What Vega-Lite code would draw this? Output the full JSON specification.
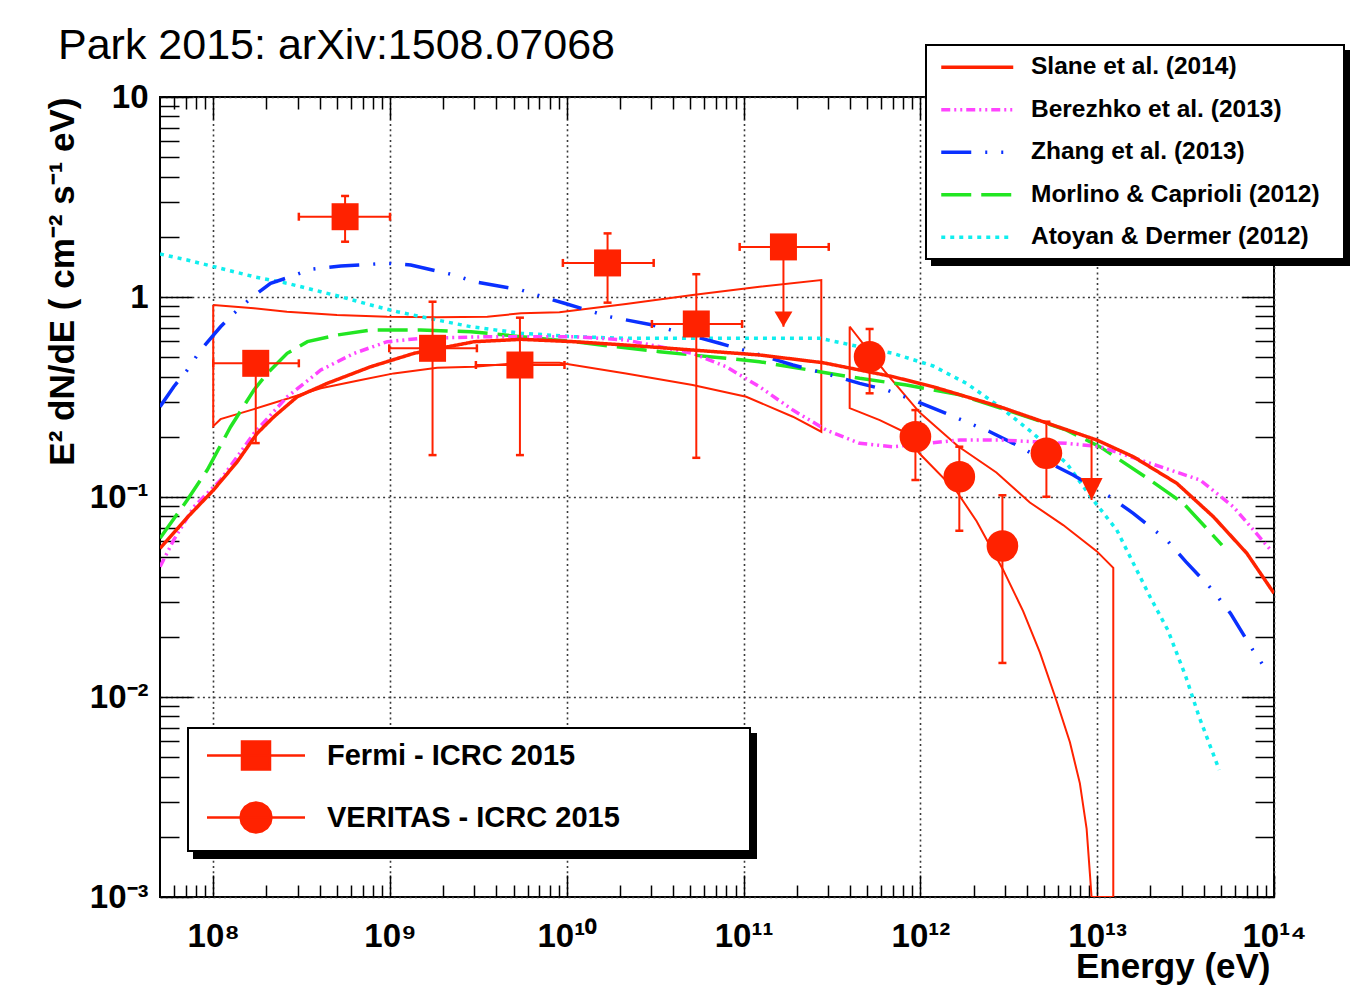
{
  "$schema": "https://vega.github.io/schema/vega-lite/v6.json",
  "width": 1114,
  "height": 800,
  "autosize": {"type": "none"},
  "padding": {"left": 160, "top": 97, "right": 76, "bottom": 94},
  "background": "white",
  "config": {
    "view": {"stroke": "black", "strokeWidth": 2},
    "font": "Liberation Sans",
    "legend": {"strokeWidth": 2},
    "axis": {"labelFont": "Liberation Sans", "titleFont": "Liberation Sans"}
  },
  "title": {"text": "Park 2015: arXiv:1508.07068", "anchor": "start", "frame": "group", "dx": -102, "dy": 58, "fontSize": 43, "font": "Liberation Sans", "fontWeight": "normal", "color": "black", "baseline": "alphabetic", "offset": 0},
  "resolve": {"axis": {"x": "independent", "y": "independent"}},
  "datasets": {
    "curves": [
      {"model": "Atoyan & Dermer (2012)", "E": 5e7, "F": 1.641},
      {"model": "Atoyan & Dermer (2012)", "E": 7.13e7, "F": 1.531},
      {"model": "Atoyan & Dermer (2012)", "E": 1.10e8, "F": 1.391},
      {"model": "Atoyan & Dermer (2012)", "E": 1.70e8, "F": 1.263},
      {"model": "Atoyan & Dermer (2012)", "E": 2.62e8, "F": 1.171},
      {"model": "Atoyan & Dermer (2012)", "E": 4.06e8, "F": 1.063},
      {"model": "Atoyan & Dermer (2012)", "E": 5.27e8, "F": 1.003},
      {"model": "Atoyan & Dermer (2012)", "E": 7.78e8, "F": 0.912},
      {"model": "Atoyan & Dermer (2012)", "E": 1.10e9, "F": 0.844},
      {"model": "Atoyan & Dermer (2012)", "E": 1.85e9, "F": 0.767},
      {"model": "Atoyan & Dermer (2012)", "E": 2.87e9, "F": 0.710},
      {"model": "Atoyan & Dermer (2012)", "E": 5.51e9, "F": 0.659},
      {"model": "Atoyan & Dermer (2012)", "E": 1.10e10, "F": 0.633},
      {"model": "Atoyan & Dermer (2012)", "E": 2.16e10, "F": 0.622},
      {"model": "Atoyan & Dermer (2012)", "E": 5.15e10, "F": 0.622},
      {"model": "Atoyan & Dermer (2012)", "E": 1.23e11, "F": 0.622},
      {"model": "Atoyan & Dermer (2012)", "E": 2.69e11, "F": 0.622},
      {"model": "Atoyan & Dermer (2012)", "E": 4.53e11, "F": 0.564},
      {"model": "Atoyan & Dermer (2012)", "E": 6.99e11, "F": 0.523},
      {"model": "Atoyan & Dermer (2012)", "E": 1.18e12, "F": 0.452},
      {"model": "Atoyan & Dermer (2012)", "E": 1.82e12, "F": 0.370},
      {"model": "Atoyan & Dermer (2012)", "E": 2.81e12, "F": 0.283},
      {"model": "Atoyan & Dermer (2012)", "E": 4.34e12, "F": 0.208},
      {"model": "Atoyan & Dermer (2012)", "E": 6.71e12, "F": 0.1475},
      {"model": "Atoyan & Dermer (2012)", "E": 9.49e12, "F": 0.0966},
      {"model": "Atoyan & Dermer (2012)", "E": 1.29e13, "F": 0.0684},
      {"model": "Atoyan & Dermer (2012)", "E": 1.99e13, "F": 0.0317},
      {"model": "Atoyan & Dermer (2012)", "E": 2.51e13, "F": 0.0216},
      {"model": "Atoyan & Dermer (2012)", "E": 3.17e13, "F": 0.01264},
      {"model": "Atoyan & Dermer (2012)", "E": 3.77e13, "F": 0.00797},
      {"model": "Atoyan & Dermer (2012)", "E": 4.90e13, "F": 0.00432},
      {"model": "Morlino & Caprioli (2012)", "E": 5e7, "F": 0.0622},
      {"model": "Morlino & Caprioli (2012)", "E": 7.13e7, "F": 0.0966},
      {"model": "Morlino & Caprioli (2012)", "E": 9.25e7, "F": 0.1365},
      {"model": "Morlino & Caprioli (2012)", "E": 1.255e8, "F": 0.2246},
      {"model": "Morlino & Caprioli (2012)", "E": 1.70e8, "F": 0.343},
      {"model": "Morlino & Caprioli (2012)", "E": 2.02e8, "F": 0.415},
      {"model": "Morlino & Caprioli (2012)", "E": 2.62e8, "F": 0.523},
      {"model": "Morlino & Caprioli (2012)", "E": 3.41e8, "F": 0.598},
      {"model": "Morlino & Caprioli (2012)", "E": 5.04e8, "F": 0.646},
      {"model": "Morlino & Caprioli (2012)", "E": 7.78e8, "F": 0.684},
      {"model": "Morlino & Caprioli (2012)", "E": 1.49e9, "F": 0.684},
      {"model": "Morlino & Caprioli (2012)", "E": 2.87e9, "F": 0.671},
      {"model": "Morlino & Caprioli (2012)", "E": 5.51e9, "F": 0.633},
      {"model": "Morlino & Caprioli (2012)", "E": 1.10e10, "F": 0.598},
      {"model": "Morlino & Caprioli (2012)", "E": 1.74e10, "F": 0.569},
      {"model": "Morlino & Caprioli (2012)", "E": 3.34e10, "F": 0.533},
      {"model": "Morlino & Caprioli (2012)", "E": 6.41e10, "F": 0.503},
      {"model": "Morlino & Caprioli (2012)", "E": 1.23e11, "F": 0.475},
      {"model": "Morlino & Caprioli (2012)", "E": 2.69e11, "F": 0.423},
      {"model": "Morlino & Caprioli (2012)", "E": 4.53e11, "F": 0.392},
      {"model": "Morlino & Caprioli (2012)", "E": 8.34e11, "F": 0.363},
      {"model": "Morlino & Caprioli (2012)", "E": 1.67e12, "F": 0.324},
      {"model": "Morlino & Caprioli (2012)", "E": 3.50e12, "F": 0.262},
      {"model": "Morlino & Caprioli (2012)", "E": 6.71e12, "F": 0.216},
      {"model": "Morlino & Caprioli (2012)", "E": 1.04e13, "F": 0.178},
      {"model": "Morlino & Caprioli (2012)", "E": 1.99e13, "F": 0.1216},
      {"model": "Morlino & Caprioli (2012)", "E": 3.07e13, "F": 0.093},
      {"model": "Morlino & Caprioli (2012)", "E": 5.08e13, "F": 0.0575},
      {"model": "Zhang et al. (2013)", "E": 5e7, "F": 0.283},
      {"model": "Zhang et al. (2013)", "E": 5.98e7, "F": 0.356},
      {"model": "Zhang et al. (2013)", "E": 7.13e7, "F": 0.4315},
      {"model": "Zhang et al. (2013)", "E": 8.49e7, "F": 0.543},
      {"model": "Zhang et al. (2013)", "E": 1.10e8, "F": 0.710},
      {"model": "Zhang et al. (2013)", "E": 1.31e8, "F": 0.829},
      {"model": "Zhang et al. (2013)", "E": 1.63e8, "F": 0.985},
      {"model": "Zhang et al. (2013)", "E": 2.11e8, "F": 1.171},
      {"model": "Zhang et al. (2013)", "E": 2.74e8, "F": 1.263},
      {"model": "Zhang et al. (2013)", "E": 3.56e8, "F": 1.375},
      {"model": "Zhang et al. (2013)", "E": 5.27e8, "F": 1.429},
      {"model": "Zhang et al. (2013)", "E": 9.67e8, "F": 1.474},
      {"model": "Zhang et al. (2013)", "E": 1.31e9, "F": 1.445},
      {"model": "Zhang et al. (2013)", "E": 2.31e9, "F": 1.288},
      {"model": "Zhang et al. (2013)", "E": 2.99e9, "F": 1.192},
      {"model": "Zhang et al. (2013)", "E": 5.51e9, "F": 1.084},
      {"model": "Zhang et al. (2013)", "E": 7.78e9, "F": 0.985},
      {"model": "Zhang et al. (2013)", "E": 9.69e9, "F": 0.930},
      {"model": "Zhang et al. (2013)", "E": 1.74e10, "F": 0.797},
      {"model": "Zhang et al. (2013)", "E": 3.06e10, "F": 0.724},
      {"model": "Zhang et al. (2013)", "E": 4.53e10, "F": 0.659},
      {"model": "Zhang et al. (2013)", "E": 7.31e10, "F": 0.587},
      {"model": "Zhang et al. (2013)", "E": 1.08e11, "F": 0.533},
      {"model": "Zhang et al. (2013)", "E": 1.90e11, "F": 0.457},
      {"model": "Zhang et al. (2013)", "E": 3.35e11, "F": 0.400},
      {"model": "Zhang et al. (2013)", "E": 4.53e11, "F": 0.370},
      {"model": "Zhang et al. (2013)", "E": 6.42e11, "F": 0.343},
      {"model": "Zhang et al. (2013)", "E": 9.08e11, "F": 0.3055},
      {"model": "Zhang et al. (2013)", "E": 1.47e12, "F": 0.257},
      {"model": "Zhang et al. (2013)", "E": 2.47e12, "F": 0.212},
      {"model": "Zhang et al. (2013)", "E": 3.35e12, "F": 0.1855},
      {"model": "Zhang et al. (2013)", "E": 5.40e12, "F": 0.1475},
      {"model": "Zhang et al. (2013)", "E": 7.31e12, "F": 0.1288},
      {"model": "Zhang et al. (2013)", "E": 1.18e13, "F": 0.1003},
      {"model": "Zhang et al. (2013)", "E": 1.60e13, "F": 0.0829},
      {"model": "Zhang et al. (2013)", "E": 2.47e13, "F": 0.061},
      {"model": "Zhang et al. (2013)", "E": 3.17e13, "F": 0.0475},
      {"model": "Zhang et al. (2013)", "E": 4.49e13, "F": 0.0343},
      {"model": "Zhang et al. (2013)", "E": 5.67e13, "F": 0.0262},
      {"model": "Zhang et al. (2013)", "E": 7.59e13, "F": 0.0172},
      {"model": "Zhang et al. (2013)", "E": 9.30e13, "F": 0.01314},
      {"model": "Berezhko et al. (2013)", "E": 5e7, "F": 0.0448},
      {"model": "Berezhko et al. (2013)", "E": 5.98e7, "F": 0.061},
      {"model": "Berezhko et al. (2013)", "E": 7.78e7, "F": 0.0894},
      {"model": "Berezhko et al. (2013)", "E": 1.10e8, "F": 0.1216},
      {"model": "Berezhko et al. (2013)", "E": 1.70e8, "F": 0.2083},
      {"model": "Berezhko et al. (2013)", "E": 2.62e8, "F": 0.317},
      {"model": "Berezhko et al. (2013)", "E": 4.06e8, "F": 0.4315},
      {"model": "Berezhko et al. (2013)", "E": 6.27e8, "F": 0.523},
      {"model": "Berezhko et al. (2013)", "E": 9.66e8, "F": 0.598},
      {"model": "Berezhko et al. (2013)", "E": 1.49e9, "F": 0.6215},
      {"model": "Berezhko et al. (2013)", "E": 3.56e9, "F": 0.633},
      {"model": "Berezhko et al. (2013)", "E": 1.10e10, "F": 0.633},
      {"model": "Berezhko et al. (2013)", "E": 2.16e10, "F": 0.6095},
      {"model": "Berezhko et al. (2013)", "E": 5.15e10, "F": 0.523},
      {"model": "Berezhko et al. (2013)", "E": 7.97e10, "F": 0.448},
      {"model": "Berezhko et al. (2013)", "E": 1.23e11, "F": 0.356},
      {"model": "Berezhko et al. (2013)", "E": 1.90e11, "F": 0.272},
      {"model": "Berezhko et al. (2013)", "E": 2.94e11, "F": 0.216},
      {"model": "Berezhko et al. (2013)", "E": 4.53e11, "F": 0.1855},
      {"model": "Berezhko et al. (2013)", "E": 6.99e11, "F": 0.1784},
      {"model": "Berezhko et al. (2013)", "E": 1.67e12, "F": 0.1928},
      {"model": "Berezhko et al. (2013)", "E": 2.81e12, "F": 0.1928},
      {"model": "Berezhko et al. (2013)", "E": 6.71e12, "F": 0.1855},
      {"model": "Berezhko et al. (2013)", "E": 1.04e13, "F": 0.1784},
      {"model": "Berezhko et al. (2013)", "E": 1.99e13, "F": 0.1475},
      {"model": "Berezhko et al. (2013)", "E": 3.82e13, "F": 0.1216},
      {"model": "Berezhko et al. (2013)", "E": 5.89e13, "F": 0.0894},
      {"model": "Berezhko et al. (2013)", "E": 9.58e13, "F": 0.0543},
      {"model": "Slane et al. (2014)", "E": 5e7, "F": 0.0554},
      {"model": "Slane et al. (2014)", "E": 7.13e7, "F": 0.079},
      {"model": "Slane et al. (2014)", "E": 1.0e8, "F": 0.108},
      {"model": "Slane et al. (2014)", "E": 1.367e8, "F": 0.150},
      {"model": "Slane et al. (2014)", "E": 1.774e8, "F": 0.2083},
      {"model": "Slane et al. (2014)", "E": 2.206e8, "F": 0.2521},
      {"model": "Slane et al. (2014)", "E": 2.99e8, "F": 0.3173},
      {"model": "Slane et al. (2014)", "E": 4.42e8, "F": 0.3702},
      {"model": "Slane et al. (2014)", "E": 7.78e8, "F": 0.4482},
      {"model": "Slane et al. (2014)", "E": 1.369e9, "F": 0.5231},
      {"model": "Slane et al. (2014)", "E": 2.99e9, "F": 0.5976},
      {"model": "Slane et al. (2014)", "E": 5.51e9, "F": 0.6143},
      {"model": "Slane et al. (2014)", "E": 1.103e10, "F": 0.5976},
      {"model": "Slane et al. (2014)", "E": 2.163e10, "F": 0.575},
      {"model": "Slane et al. (2014)", "E": 5.15e10, "F": 0.543},
      {"model": "Slane et al. (2014)", "E": 1.23e11, "F": 0.5129},
      {"model": "Slane et al. (2014)", "E": 2.81e11, "F": 0.4694},
      {"model": "Slane et al. (2014)", "E": 4.53e11, "F": 0.4315},
      {"model": "Slane et al. (2014)", "E": 6.99e11, "F": 0.3995},
      {"model": "Slane et al. (2014)", "E": 1.178e12, "F": 0.356},
      {"model": "Slane et al. (2014)", "E": 1.82e12, "F": 0.3173},
      {"model": "Slane et al. (2014)", "E": 2.81e12, "F": 0.2828},
      {"model": "Slane et al. (2014)", "E": 4.94e12, "F": 0.2379},
      {"model": "Slane et al. (2014)", "E": 9.93e12, "F": 0.1928},
      {"model": "Slane et al. (2014)", "E": 1.6e13, "F": 0.159},
      {"model": "Slane et al. (2014)", "E": 2.82e13, "F": 0.1171},
      {"model": "Slane et al. (2014)", "E": 4.54e13, "F": 0.0797},
      {"model": "Slane et al. (2014)", "E": 7.02e13, "F": 0.0523},
      {"model": "Slane et al. (2014)", "E": 1e14, "F": 0.033}
    ],
    "bowties": [
      {"bt": "Fermi", "i": 1, "E": 1e8, "F": 0.912},
      {"bt": "Fermi", "i": 2, "E": 1.70e8, "F": 0.878},
      {"bt": "Fermi", "i": 3, "E": 2.61e8, "F": 0.844},
      {"bt": "Fermi", "i": 4, "E": 5.01e8, "F": 0.813},
      {"bt": "Fermi", "i": 5, "E": 9.64e8, "F": 0.797},
      {"bt": "Fermi", "i": 6, "E": 1.85e9, "F": 0.792},
      {"bt": "Fermi", "i": 7, "E": 3.55e9, "F": 0.797},
      {"bt": "Fermi", "i": 8, "E": 5.51e9, "F": 0.829},
      {"bt": "Fermi", "i": 9, "E": 9.08e9, "F": 0.839},
      {"bt": "Fermi", "i": 10, "E": 2.16e10, "F": 0.923},
      {"bt": "Fermi", "i": 11, "E": 5.15e10, "F": 1.023},
      {"bt": "Fermi", "i": 12, "E": 1.23e11, "F": 1.126},
      {"bt": "Fermi", "i": 13, "E": 2.75e11, "F": 1.216},
      {"bt": "Fermi", "i": 14, "E": 2.75e11, "F": 0.212},
      {"bt": "Fermi", "i": 15, "E": 1.90e11, "F": 0.252},
      {"bt": "Fermi", "i": 16, "E": 1.035e11, "F": 0.317},
      {"bt": "Fermi", "i": 17, "E": 5.15e10, "F": 0.363},
      {"bt": "Fermi", "i": 18, "E": 2.16e10, "F": 0.415},
      {"bt": "Fermi", "i": 19, "E": 9.08e9, "F": 0.469},
      {"bt": "Fermi", "i": 20, "E": 5.51e9, "F": 0.469},
      {"bt": "Fermi", "i": 21, "E": 2.99e9, "F": 0.448},
      {"bt": "Fermi", "i": 22, "E": 1.85e9, "F": 0.443},
      {"bt": "Fermi", "i": 23, "E": 1.05e9, "F": 0.415},
      {"bt": "Fermi", "i": 24, "E": 6.84e8, "F": 0.385},
      {"bt": "Fermi", "i": 25, "E": 4.06e8, "F": 0.350},
      {"bt": "Fermi", "i": 26, "E": 2.62e8, "F": 0.310},
      {"bt": "Fermi", "i": 27, "E": 1.70e8, "F": 0.275},
      {"bt": "Fermi", "i": 28, "E": 1.10e8, "F": 0.245},
      {"bt": "Fermi", "i": 29, "E": 1e8, "F": 0.226},
      {"bt": "Fermi", "i": 30, "E": 1e8, "F": 0.912},
      {"bt": "VERITAS", "i": 1, "E": 3.98e11, "F": 0.712},
      {"bt": "VERITAS", "i": 2, "E": 6.28e11, "F": 0.4246},
      {"bt": "VERITAS", "i": 3, "E": 9.91e11, "F": 0.2642},
      {"bt": "VERITAS", "i": 4, "E": 1.633e12, "F": 0.1793},
      {"bt": "VERITAS", "i": 5, "E": 2.69e12, "F": 0.1326},
      {"bt": "VERITAS", "i": 6, "E": 4.16e12, "F": 0.0939},
      {"bt": "VERITAS", "i": 7, "E": 6.42e12, "F": 0.0724},
      {"bt": "VERITAS", "i": 8, "E": 9.93e12, "F": 0.0536},
      {"bt": "VERITAS", "i": 9, "E": 1.233e13, "F": 0.0442},
      {"bt": "VERITAS", "i": 10, "E": 1.233e13, "F": 0.001},
      {"bt": "VERITAS", "i": 11, "E": 9.29e12, "F": 0.001},
      {"bt": "VERITAS", "i": 12, "E": 9.09e12, "F": 0.001313},
      {"bt": "VERITAS", "i": 13, "E": 8.71e12, "F": 0.0022},
      {"bt": "VERITAS", "i": 14, "E": 7.98e12, "F": 0.0037},
      {"bt": "VERITAS", "i": 15, "E": 7.01e12, "F": 0.00594},
      {"bt": "VERITAS", "i": 16, "E": 5.89e12, "F": 0.00955},
      {"bt": "VERITAS", "i": 17, "E": 4.74e12, "F": 0.01673},
      {"bt": "VERITAS", "i": 18, "E": 3.81e12, "F": 0.0269},
      {"bt": "VERITAS", "i": 19, "E": 2.94e12, "F": 0.0432},
      {"bt": "VERITAS", "i": 20, "E": 2.08e12, "F": 0.0757},
      {"bt": "VERITAS", "i": 21, "E": 1.60e12, "F": 0.1068},
      {"bt": "VERITAS", "i": 22, "E": 9.91e11, "F": 0.1644},
      {"bt": "VERITAS", "i": 23, "E": 7.97e11, "F": 0.2131},
      {"bt": "VERITAS", "i": 24, "E": 5.89e11, "F": 0.2424},
      {"bt": "VERITAS", "i": 25, "E": 3.98e11, "F": 0.2783},
      {"bt": "VERITAS", "i": 26, "E": 3.98e11, "F": 0.712}
    ],
    "points": [
      {"inst": "Fermi - ICRC 2015", "E": 1.74e8, "F": 0.466, "Elo": 1.0e8, "Ehi": 3.05e8, "Flo": 0.186, "Fhi": 0.466, "ul": false},
      {"inst": "Fermi - ICRC 2015", "E": 5.57e8, "F": 2.52, "Elo": 3.05e8, "Ehi": 1.0e9, "Flo": 1.89, "Fhi": 3.2, "ul": false},
      {"inst": "Fermi - ICRC 2015", "E": 1.74e9, "F": 0.554, "Elo": 9.9e8, "Ehi": 3.1e9, "Flo": 0.162, "Fhi": 0.947, "ul": false},
      {"inst": "Fermi - ICRC 2015", "E": 5.43e9, "F": 0.457, "Elo": 3.06e9, "Ehi": 9.7e9, "Flo": 0.162, "Fhi": 0.788, "ul": false},
      {"inst": "Fermi - ICRC 2015", "E": 1.70e10, "F": 1.48, "Elo": 9.5e9, "Ehi": 3.1e10, "Flo": 0.937, "Fhi": 2.08, "ul": false},
      {"inst": "Fermi - ICRC 2015", "E": 5.4e10, "F": 0.733, "Elo": 3.03e10, "Ehi": 9.8e10, "Flo": 0.157, "Fhi": 1.30, "ul": false},
      {"inst": "Fermi - ICRC 2015", "E": 1.68e11, "F": 1.78, "Elo": 9.5e10, "Ehi": 3.03e11, "Flo": 0.71, "Fhi": 1.78, "ul": true},
      {"inst": "VERITAS - ICRC 2015", "E": 5.16e11, "F": 0.503, "Elo": null, "Ehi": null, "Flo": 0.33, "Fhi": 0.692, "ul": false},
      {"inst": "VERITAS - ICRC 2015", "E": 9.37e11, "F": 0.200, "Elo": null, "Ehi": null, "Flo": 0.1216, "Fhi": 0.272, "ul": false},
      {"inst": "VERITAS - ICRC 2015", "E": 1.66e12, "F": 0.1263, "Elo": null, "Ehi": null, "Flo": 0.0678, "Fhi": 0.1784, "ul": false},
      {"inst": "VERITAS - ICRC 2015", "E": 2.91e12, "F": 0.0569, "Elo": null, "Ehi": null, "Flo": 0.0148, "Fhi": 0.102, "ul": false},
      {"inst": "VERITAS - ICRC 2015", "E": 5.16e12, "F": 0.1654, "Elo": null, "Ehi": null, "Flo": 0.1003, "Fhi": 0.238, "ul": false},
      {"inst": "VERITAS - ICRC 2015", "E": 9.29e12, "F": null, "Elo": null, "Ehi": null, "Flo": 0.0966, "Fhi": 0.193, "ul": true}
    ]
  },
  "layer": [
    {
      "data": {"name": "bowties"},
      "mark": {"type": "line", "color": "#ff2200", "strokeWidth": 2, "clip": true},
      "encoding": {
        "x": {"field": "E", "type": "quantitative", "scale": {"type": "log", "domain": [5e7, 1e14], "nice": false},
          "axis": {"orient": "bottom", "values": [6e7,7e7,8e7,9e7,2e8,3e8,4e8,5e8,6e8,7e8,8e8,9e8,2e9,3e9,4e9,5e9,6e9,7e9,8e9,9e9,2e10,3e10,4e10,5e10,6e10,7e10,8e10,9e10,2e11,3e11,4e11,5e11,6e11,7e11,8e11,9e11,2e12,3e12,4e12,5e12,6e12,7e12,8e12,9e12,2e13,3e13,4e13,5e13,6e13,7e13,8e13,9e13], "labels": false, "ticks": true, "tickSize": -12, "tickColor": "black", "tickWidth": 1.5, "domain": false, "grid": false, "title": null}},
        "y": {"field": "F", "type": "quantitative", "scale": {"type": "log", "domain": [0.001, 10], "nice": false},
          "axis": {"orient": "left", "values": [0.002,0.003,0.004,0.005,0.006,0.007,0.008,0.009,0.02,0.03,0.04,0.05,0.06,0.07,0.08,0.09,0.2,0.3,0.4,0.5,0.6,0.7,0.8,0.9,2,3,4,5,6,7,8,9], "labels": false, "ticks": true, "tickSize": -19, "tickColor": "black", "tickWidth": 1.5, "domain": false, "grid": false, "title": null}},
        "detail": {"field": "bt"},
        "order": {"field": "i"}
      }
    },
    {
      "data": {"name": "curves"},
      "mark": {"type": "line", "strokeWidth": 3.5, "clip": true},
      "encoding": {
        "x": {"field": "E", "type": "quantitative", "scale": {"type": "log", "domain": [5e7, 1e14], "nice": false},
          "axis": {"orient": "bottom", "values": [1e8,1e9,1e10,1e11,1e12,1e13,1e14], "labelExpr": "round(log(datum.value)/LN10) == 8 ? '10⁸' : round(log(datum.value)/LN10) == 9 ? '10⁹' : round(log(datum.value)/LN10) == 10 ? '10¹⁰' : round(log(datum.value)/LN10) == 11 ? '10¹¹' : round(log(datum.value)/LN10) == 12 ? '10¹²' : round(log(datum.value)/LN10) == 13 ? '10¹³' : '10¹⁴'", "labelFontSize": 33, "labelFontWeight": "bold", "labelColor": "black", "labelPadding": 23, "labelAlign": "center", "labelBaseline": "top", "labelFlush": false, "labelOverlap": false, "labelBound": false, "ticks": false, "domain": false, "grid": true, "gridColor": "#3a3a3a", "gridDash": [2, 3.3], "gridWidth": 1.6, "gridOpacity": 1, "title": "Energy (eV)", "titleFontSize": 35, "titleFontWeight": "bold", "titleColor": "black", "titleX": 1110, "titleY": 80, "titleAlign": "right", "titleBaseline": "alphabetic", "titleAngle": 0}},
        "y": {"field": "F", "type": "quantitative", "scale": {"type": "log", "domain": [0.001, 10], "nice": false},
          "axis": {"orient": "left", "values": [0.001, 0.01, 0.1, 1, 10], "labelExpr": "round(log(datum.value)/LN10) == 1 ? '10' : round(log(datum.value)/LN10) == 0 ? '1' : round(log(datum.value)/LN10) == -1 ? '10⁻¹' : round(log(datum.value)/LN10) == -2 ? '10⁻²' : '10⁻³'", "labelFontSize": 33, "labelFontWeight": "bold", "labelColor": "black", "labelPadding": 12, "labelAlign": "right", "labelBaseline": "middle", "labelFlush": false, "labelOverlap": false, "labelBound": false, "ticks": false, "domain": false, "grid": true, "gridColor": "#3a3a3a", "gridDash": [2, 3.3], "gridWidth": 1.6, "gridOpacity": 1, "title": "E² dN/dE ( cm⁻² s⁻¹ eV)", "titleFontSize": 35, "titleFontWeight": "bold", "titleColor": "black", "titleAngle": -90, "titleX": -98, "titleY": 0, "titleAlign": "right", "titleBaseline": "middle"}},
        "color": {"field": "model", "type": "nominal",
          "scale": {"domain": ["Slane et al. (2014)", "Berezhko et al. (2013)", "Zhang et al. (2013)", "Morlino & Caprioli (2012)", "Atoyan & Dermer (2012)"], "range": ["#ff2200", "#ff44ff", "#0a30ff", "#22e622", "#10eeee"]},
          "legend": {"title": "0", "titleOrient": "right", "titleFontSize": 20, "titleFontWeight": "normal", "titleColor": "white", "titlePadding": 2, "orient": "none", "legendX": 766, "legendY": -52, "symbolType": "M-4.5,0L4.5,0", "symbolSize": 256, "symbolStrokeWidth": 3.5, "symbolOffset": 29, "labelOffset": 41.5, "rowPadding": 17.5, "padding": 10, "fillColor": "white", "strokeColor": "black", "labelFont": "Liberation Sans", "labelFontSize": 24.5, "labelFontWeight": "bold", "labelColor": "black", "labelLimit": 1000, "zindex": 2}},
        "strokeDash": {"field": "model", "type": "nominal",
          "scale": {"domain": ["Slane et al. (2014)", "Berezhko et al. (2013)", "Zhang et al. (2013)", "Morlino & Caprioli (2012)", "Atoyan & Dermer (2012)"], "range": [[1, 0], [9, 4, 2, 4, 2, 4], [30, 14, 2, 14, 2, 14], [30, 10], [4, 5]]},
          "legend": {"title": "0", "titleOrient": "right", "titleFontSize": 20, "titleFontWeight": "normal", "titleColor": "white", "titlePadding": 2, "orient": "none", "legendX": 766, "legendY": -52, "symbolType": "M-4.5,0L4.5,0", "symbolSize": 256, "symbolStrokeWidth": 3.5, "symbolOffset": 29, "labelOffset": 41.5, "rowPadding": 17.5, "padding": 10, "fillColor": "white", "strokeColor": "black", "labelFont": "Liberation Sans", "labelFontSize": 24.5, "labelFontWeight": "bold", "labelColor": "black", "labelLimit": 1000, "zindex": 2}}
      }
    },
    {
      "data": {"name": "curves"},
      "transform": [{"filter": "false"}],
      "mark": {"type": "point", "filled": true},
      "encoding": {
        "x": {"field": "E", "type": "quantitative", "scale": {"type": "log", "domain": [5e7, 1e14], "nice": false}, "axis": null},
        "y": {"field": "F", "type": "quantitative", "scale": {"type": "log", "domain": [0.001, 10], "nice": false}, "axis": null},
        "fill": {"field": "model", "type": "nominal",
          "scale": {"domain": ["Atoyan & Dermer (2012)", "Morlino & Caprioli (2012)", "Zhang et al. (2013)", "Berezhko et al. (2013)", "Slane et al. (2014)"], "range": ["black", "black", "black", "black", "black"]},
          "legend": {"title": "0", "titleOrient": "right", "titleFontSize": 20, "titleFontWeight": "normal", "titleColor": "black", "titlePadding": 2, "orient": "none", "legendX": 772, "legendY": -46, "symbolType": "M-4.5,0L4.5,0", "symbolSize": 256, "symbolStrokeWidth": 3.5, "symbolOffset": 29, "labelOffset": 41.5, "rowPadding": 17.5, "padding": 10, "fillColor": "black", "strokeColor": "black", "symbolFillColor": "black", "symbolStrokeColor": "black", "labelFont": "Liberation Sans", "labelFontSize": 24.5, "labelFontWeight": "bold", "labelColor": "black", "labelLimit": 1000, "zindex": 1}}
      }
    },
    {
      "data": {"name": "points"},
      "mark": {"type": "rule", "color": "#ff2200", "strokeWidth": 2},
      "encoding": {
        "x": {"field": "Elo", "type": "quantitative", "scale": {"type": "log", "domain": [5e7, 1e14], "nice": false},
          "axis": {"orient": "top", "values": [1e8,1e9,1e10,1e11,1e12,1e13,1e14], "labels": false, "ticks": true, "tickSize": -22, "tickColor": "black", "tickWidth": 1.5, "domain": false, "grid": false, "title": null}},
        "x2": {"field": "Ehi"},
        "y": {"field": "F", "type": "quantitative", "scale": {"type": "log", "domain": [0.001, 10], "nice": false},
          "axis": {"orient": "right", "values": [0.001, 0.01, 0.1, 1, 10], "labels": false, "ticks": true, "tickSize": -32, "tickColor": "black", "tickWidth": 1.5, "domain": false, "grid": false, "title": null}}
      }
    },
    {
      "data": {"name": "points"},
      "mark": {"type": "rule", "color": "#ff2200", "strokeWidth": 2},
      "encoding": {
        "x": {"field": "E", "type": "quantitative", "scale": {"type": "log", "domain": [5e7, 1e14], "nice": false},
          "axis": {"orient": "top", "values": [6e7,7e7,8e7,9e7,2e8,3e8,4e8,5e8,6e8,7e8,8e8,9e8,2e9,3e9,4e9,5e9,6e9,7e9,8e9,9e9,2e10,3e10,4e10,5e10,6e10,7e10,8e10,9e10,2e11,3e11,4e11,5e11,6e11,7e11,8e11,9e11,2e12,3e12,4e12,5e12,6e12,7e12,8e12,9e12,2e13,3e13,4e13,5e13,6e13,7e13,8e13,9e13], "labels": false, "ticks": true, "tickSize": -12, "tickColor": "black", "tickWidth": 1.5, "domain": false, "grid": false, "title": null}},
        "y": {"field": "Flo", "type": "quantitative", "scale": {"type": "log", "domain": [0.001, 10], "nice": false},
          "axis": {"orient": "right", "values": [0.002,0.003,0.004,0.005,0.006,0.007,0.008,0.009,0.02,0.03,0.04,0.05,0.06,0.07,0.08,0.09,0.2,0.3,0.4,0.5,0.6,0.7,0.8,0.9,2,3,4,5,6,7,8,9], "labels": false, "ticks": true, "tickSize": -19, "tickColor": "black", "tickWidth": 1.5, "domain": false, "grid": false, "title": null}},
        "y2": {"field": "Fhi"}
      }
    },
    {
      "data": {"name": "points"},
      "mark": {"type": "tick", "orient": "vertical", "color": "#ff2200", "size": 8, "thickness": 2.5, "opacity": 1},
      "encoding": {
        "x": {"field": "Elo", "type": "quantitative", "scale": {"type": "log", "domain": [5e7, 1e14], "nice": false},
          "axis": {"orient": "bottom", "values": [1e8,1e9,1e10,1e11,1e12,1e13,1e14], "labels": false, "ticks": true, "tickSize": -22, "tickColor": "black", "tickWidth": 1.5, "domain": false, "grid": false, "title": null}},
        "y": {"field": "F", "type": "quantitative", "scale": {"type": "log", "domain": [0.001, 10], "nice": false},
          "axis": {"orient": "left", "values": [0.001, 0.01, 0.1, 1, 10], "labels": false, "ticks": true, "tickSize": -32, "tickColor": "black", "tickWidth": 1.5, "domain": false, "grid": false, "title": null}}
      }
    },
    {
      "data": {"name": "points"},
      "mark": {"type": "tick", "orient": "vertical", "color": "#ff2200", "size": 8, "thickness": 2.5, "opacity": 1},
      "encoding": {
        "x": {"field": "Ehi", "type": "quantitative", "scale": {"type": "log", "domain": [5e7, 1e14], "nice": false}, "axis": null},
        "y": {"field": "F", "type": "quantitative", "scale": {"type": "log", "domain": [0.001, 10], "nice": false}, "axis": null}
      }
    },
    {
      "data": {"name": "points"},
      "transform": [{"filter": "!datum.ul"}],
      "mark": {"type": "tick", "orient": "horizontal", "color": "#ff2200", "size": 8, "thickness": 2.5, "opacity": 1},
      "encoding": {
        "x": {"field": "E", "type": "quantitative", "scale": {"type": "log", "domain": [5e7, 1e14], "nice": false}, "axis": null},
        "y": {"field": "Flo", "type": "quantitative", "scale": {"type": "log", "domain": [0.001, 10], "nice": false}, "axis": null}
      }
    },
    {
      "data": {"name": "points"},
      "transform": [{"filter": "!datum.ul"}],
      "mark": {"type": "tick", "orient": "horizontal", "color": "#ff2200", "size": 8, "thickness": 2.5, "opacity": 1},
      "encoding": {
        "x": {"field": "E", "type": "quantitative", "scale": {"type": "log", "domain": [5e7, 1e14], "nice": false}, "axis": null},
        "y": {"field": "Fhi", "type": "quantitative", "scale": {"type": "log", "domain": [0.001, 10], "nice": false}, "axis": null}
      }
    },
    {
      "data": {"name": "points"},
      "transform": [{"filter": "datum.ul && datum.inst == 'Fermi - ICRC 2015'"}],
      "mark": {"type": "point", "shape": "M-1,-1.7L1,-1.7L0,0Z", "size": 324, "filled": true, "color": "#ff2200", "opacity": 1, "strokeWidth": 0},
      "encoding": {
        "x": {"field": "E", "type": "quantitative", "scale": {"type": "log", "domain": [5e7, 1e14], "nice": false}, "axis": null},
        "y": {"field": "Flo", "type": "quantitative", "scale": {"type": "log", "domain": [0.001, 10], "nice": false}, "axis": null}
      }
    },
    {
      "data": {"name": "points"},
      "transform": [{"filter": "datum.ul && datum.inst == 'VERITAS - ICRC 2015'"}],
      "mark": {"type": "point", "shape": "M-1,-2L1,-2L0,0Z", "size": 484, "filled": true, "color": "#ff2200", "opacity": 1, "strokeWidth": 0},
      "encoding": {
        "x": {"field": "E", "type": "quantitative", "scale": {"type": "log", "domain": [5e7, 1e14], "nice": false}, "axis": null},
        "y": {"field": "Flo", "type": "quantitative", "scale": {"type": "log", "domain": [0.001, 10], "nice": false}, "axis": null}
      }
    },
    {
      "data": {"name": "points"},
      "transform": [{"filter": "datum.inst == 'Fermi - ICRC 2015'"}],
      "mark": {"type": "point", "shape": "square", "size": 729, "filled": true, "color": "#ff2200", "opacity": 1, "strokeWidth": 0},
      "encoding": {
        "x": {"field": "E", "type": "quantitative", "scale": {"type": "log", "domain": [5e7, 1e14], "nice": false}, "axis": null},
        "y": {"field": "F", "type": "quantitative", "scale": {"type": "log", "domain": [0.001, 10], "nice": false}, "axis": null}
      }
    },
    {
      "data": {"name": "points"},
      "transform": [{"filter": "datum.inst == 'VERITAS - ICRC 2015'"}],
      "mark": {"type": "point", "shape": "circle", "size": 1000, "filled": true, "color": "#ff2200", "opacity": 1, "strokeWidth": 0},
      "encoding": {
        "x": {"field": "E", "type": "quantitative", "scale": {"type": "log", "domain": [5e7, 1e14], "nice": false}, "axis": null},
        "y": {"field": "F", "type": "quantitative", "scale": {"type": "log", "domain": [0.001, 10], "nice": false}, "axis": null}
      }
    },
    {
      "data": {"name": "points"},
      "transform": [{"filter": "false"}],
      "mark": {"type": "point", "filled": true, "fill": "#ff2200", "stroke": "#ff2200", "opacity": 1, "strokeWidth": 2.5},
      "encoding": {
        "x": {"field": "E", "type": "quantitative", "scale": {"type": "log", "domain": [5e7, 1e14], "nice": false}, "axis": null},
        "y": {"field": "F", "type": "quantitative", "scale": {"type": "log", "domain": [0.001, 10], "nice": false}, "axis": null},
        "shape": {"field": "inst", "type": "nominal",
          "scale": {"domain": ["Fermi - ICRC 2015", "VERITAS - ICRC 2015"], "range": ["M-9.8,0L9.8,0M-2.8,-2.8L2.8,-2.8L2.8,2.8L-2.8,2.8Z", "M-9.8,0L9.8,0M3.1,0L2.864,1.148L2.192,2.121L1.186,2.772L0,3.0L-1.186,2.772L-2.192,2.121L-2.864,1.148L-3.1,0L-2.864,-1.148L-2.192,-2.121L-1.186,-2.772L0,-3.0L1.186,-2.772L2.192,-2.121L2.864,-1.148Z"]},
          "legend": {"title": "0000000000", "titleOrient": "right", "titleFontSize": 20.5, "titleFontWeight": "normal", "titleColor": "white", "titlePadding": 2, "orient": "none", "legendX": 28, "legendY": 631, "symbolSize": 100, "symbolStrokeWidth": 2.5, "symbolOpacity": 1, "symbolOffset": 40.5, "labelOffset": 56.5, "rowPadding": 22, "padding": 13, "fillColor": "white", "strokeColor": "black", "labelFont": "Liberation Sans", "labelFontSize": 29, "labelFontWeight": "bold", "labelColor": "black", "labelLimit": 1000, "zindex": 2,
            "encoding": {"symbols": {"stroke": {"value": "#ff2200"}, "fill": {"value": "#ff2200"}, "strokeWidth": {"value": 2.5}}}}}
      }
    },
    {
      "data": {"name": "points"},
      "transform": [{"filter": "false"}],
      "mark": {"type": "point", "filled": true, "opacity": 1, "strokeWidth": 2.5},
      "encoding": {
        "x": {"field": "E", "type": "quantitative", "scale": {"type": "log", "domain": [5e7, 1e14], "nice": false}, "axis": null},
        "y": {"field": "F", "type": "quantitative", "scale": {"type": "log", "domain": [0.001, 10], "nice": false}, "axis": null},
        "stroke": {"field": "inst", "type": "nominal",
          "scale": {"domain": ["VERITAS - ICRC 2015", "Fermi - ICRC 2015"], "range": ["black", "black"]},
          "legend": {"title": "0000000000", "titleOrient": "right", "titleFontSize": 20.5, "titleFontWeight": "normal", "titleColor": "black", "titlePadding": 2, "orient": "none", "legendX": 34, "legendY": 637, "symbolType": "M-9.8,0L9.8,0M3.1,0L2.864,1.148L2.192,2.121L1.186,2.772L0,3.0L-1.186,2.772L-2.192,2.121L-2.864,1.148L-3.1,0L-2.864,-1.148L-2.192,-2.121L-1.186,-2.772L0,-3.0L1.186,-2.772L2.192,-2.121L2.864,-1.148Z", "symbolSize": 100, "symbolStrokeWidth": 2.5, "symbolFillColor": "black", "symbolStrokeColor": "black", "symbolOffset": 40.5, "labelOffset": 56.5, "rowPadding": 22, "padding": 13, "fillColor": "black", "strokeColor": "black", "labelFont": "Liberation Sans", "labelFontSize": 29, "labelFontWeight": "bold", "labelColor": "black", "labelLimit": 1000, "zindex": 1}}
      }
    }
  ]
}
